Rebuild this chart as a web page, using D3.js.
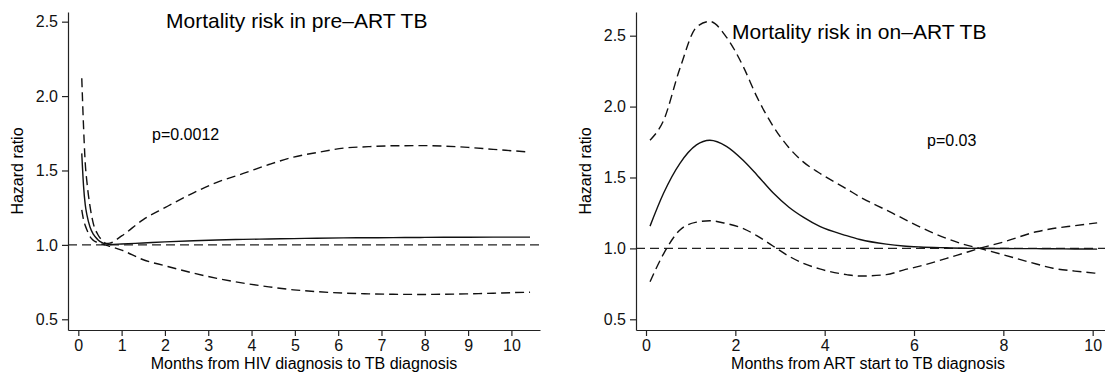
<!DOCTYPE html>
<html>
<head>
<meta charset="utf-8">
<script src="https://cdn.jsdelivr.net/npm/d3@7"></script>
<style>
  body { margin: 0; background: #fff; }
  svg { display: block; font-family: "Liberation Sans", Arial, sans-serif; }
  .axis path, .axis line { stroke: #222; stroke-width: 1.2; }
  .axis text { font-size: 16px; fill: #111; }
</style>
</head>
<body>
<div id="chart"></div>
<script>
// Pre-ART TB panel
const preMonths = [0.08, 0.12, 0.16, 0.2, 0.27, 0.35, 0.45, 0.55, 0.65, 0.73, 1.0, 1.5, 2, 2.66, 3.2, 3.81, 4.4, 4.97, 5.5, 6.12, 6.7, 7.27, 7.9, 8.43, 9.0, 9.58, 10.0, 10.43];
const preHR    = [1.615, 1.40, 1.27, 1.20, 1.12, 1.07, 1.035, 1.015, 1.005, 1.003, 1.006, 1.013, 1.02, 1.028, 1.033, 1.037, 1.04, 1.042, 1.045, 1.047, 1.048, 1.049, 1.05, 1.051, 1.051, 1.052, 1.052, 1.052];
const preUpper = [2.12, 1.80, 1.55, 1.42, 1.26, 1.14, 1.07, 1.03, 1.01, 1.012, 1.06, 1.17, 1.25, 1.35, 1.42, 1.48, 1.54, 1.59, 1.62, 1.65, 1.66, 1.666, 1.667, 1.664, 1.655, 1.642, 1.633, 1.624];
const preLower = [1.235, 1.17, 1.13, 1.10, 1.055, 1.03, 1.015, 1.005, 0.997, 0.99, 0.965, 0.90, 0.86, 0.81, 0.775, 0.743, 0.718, 0.698, 0.686, 0.676, 0.671, 0.668, 0.667, 0.668, 0.671, 0.675, 0.679, 0.682];

// On-ART TB panel
const onMonths = [0.09, 0.39, 0.76, 1.13, 1.43, 1.8, 2.18, 2.48, 2.85, 3.2, 3.52, 3.89, 4.49, 4.79, 5.38, 5.76, 6.13, 6.73, 7.1, 7.47, 8.0, 8.74, 9.11, 9.6, 10.1];
const onHR    = [1.157, 1.387, 1.60, 1.73, 1.763, 1.72, 1.62, 1.52, 1.39, 1.29, 1.22, 1.155, 1.09, 1.063, 1.03, 1.017, 1.01, 1.004, 1.001, 1.0, 0.999, 0.998, 0.997, 0.996, 0.995];
const onUpper = [1.763, 1.90, 2.27, 2.56, 2.60, 2.49, 2.28, 2.07, 1.86, 1.71, 1.61, 1.53, 1.42, 1.363, 1.27, 1.21, 1.152, 1.07, 1.03, 1.0, 0.955, 0.89, 0.86, 0.84, 0.824];
const onLower = [0.765, 0.96, 1.13, 1.185, 1.195, 1.175, 1.14, 1.09, 1.015, 0.945, 0.895, 0.855, 0.815, 0.805, 0.815, 0.847, 0.875, 0.93, 0.965, 1.0, 1.045, 1.117, 1.14, 1.16, 1.18];

const yTicks = [0.5, 1.0, 1.5, 2.0, 2.5];
const preXTicks = [0, 1, 2, 3, 4, 5, 6, 7, 8, 9, 10];
const onXTicks = [0, 2, 4, 6, 8, 10];
const referenceHR = 1.0;

class HazardPlot {

  constructor(_config, _data) {
    this.config = _config;
    this.data = _data;
    this.initVis();
  }

  initVis() {
    let vis = this;
    const c = vis.config;

    vis.g = c.svg.append('g');

    vis.xScale = d3.scaleLinear().domain(c.xDomain).range(c.xRange);
    vis.yScale = d3.scaleLinear().domain(c.yDomain).range(c.yRange);

    vis.xAxis = d3.axisBottom(vis.xScale)
        .tickValues(c.xTicks)
        .tickFormat(d3.format('d'))
        .tickSize(6)
        .tickSizeOuter(0)
        .tickPadding(4);

    vis.yAxis = d3.axisLeft(vis.yScale)
        .tickValues(yTicks)
        .tickFormat(d3.format('.1f'))
        .tickSize(6)
        .tickSizeOuter(0)
        .tickPadding(4);

    vis.line = d3.line()
        .x(d => vis.xScale(d.x))
        .y(d => vis.yScale(d.y))
        .curve(d3.curveMonotoneX);

    vis.renderVis();
  }

  renderVis() {
    let vis = this;
    const c = vis.config;

    vis.g.append('g')
        .attr('class', 'axis x-axis')
        .attr('transform', `translate(0,${c.yRange[0]})`)
        .call(vis.xAxis);

    vis.g.append('g')
        .attr('class', 'axis y-axis')
        .attr('transform', `translate(${c.xRange[0]},0)`)
        .call(vis.yAxis);

    // reference line at HR = 1
    vis.g.append('line')
        .attr('x1', c.xRange[0])
        .attr('x2', c.xRange[1])
        .attr('y1', vis.yScale(referenceHR))
        .attr('y2', vis.yScale(referenceHR))
        .attr('stroke', '#222')
        .attr('stroke-width', 1.3)
        .attr('stroke-dasharray', '9,5');

    const series = [
      {values: vis.data.upper, dash: '9,5'},
      {values: vis.data.lower, dash: '9,5'},
      {values: vis.data.hr, dash: null}
    ];

    series.forEach(s => {
      const pts = vis.data.months.map((m, i) => ({x: m, y: s.values[i]}));
      vis.g.append('path')
          .datum(pts)
          .attr('fill', 'none')
          .attr('stroke', '#111')
          .attr('stroke-width', 1.4)
          .attr('stroke-dasharray', s.dash)
          .attr('d', vis.line);
    });

    vis.g.append('text')
        .attr('x', c.title.x)
        .attr('y', c.title.y)
        .attr('font-size', 21)
        .text(c.title.text);

    vis.g.append('text')
        .attr('x', c.pval.x)
        .attr('y', c.pval.y)
        .attr('font-size', 16)
        .text(c.pval.text);

    vis.g.append('text')
        .attr('transform', `translate(${c.yLabel.x},${c.yLabel.y}) rotate(-90)`)
        .attr('text-anchor', 'middle')
        .attr('font-size', 16)
        .text('Hazard ratio');

    vis.g.append('text')
        .attr('x', c.xLabel.x)
        .attr('y', c.xLabel.y)
        .attr('text-anchor', 'middle')
        .attr('font-size', 16)
        .text(c.xLabel.text);
  }
}

const svg = d3.select('#chart').append('svg')
    .attr('width', 1105)
    .attr('height', 376);

new HazardPlot({
  svg: svg,
  xDomain: [-0.238, 10.66], xRange: [68, 540],
  yDomain: [0.428, 2.565], yRange: [330, 12],
  xTicks: preXTicks,
  title: {x: 166, y: 28, text: 'Mortality risk in pre\u2013ART TB'},
  pval: {x: 152, y: 140, text: 'p=0.0012'},
  yLabel: {x: 23, y: 171},
  xLabel: {x: 304, y: 369, text: 'Months from HIV diagnosis to TB diagnosis'}
}, {months: preMonths, hr: preHR, upper: preUpper, lower: preLower});

new HazardPlot({
  svg: svg,
  xDomain: [-0.224, 10.276], xRange: [636, 1105],
  yDomain: [0.4245, 2.667], yRange: [330, 12],
  xTicks: onXTicks,
  title: {x: 732, y: 39, text: 'Mortality risk in on\u2013ART TB'},
  pval: {x: 927, y: 146, text: 'p=0.03'},
  yLabel: {x: 591, y: 171},
  xLabel: {x: 868, y: 369, text: 'Months from ART start to TB diagnosis'}
}, {months: onMonths, hr: onHR, upper: onUpper, lower: onLower});
</script>
</body>
</html>
